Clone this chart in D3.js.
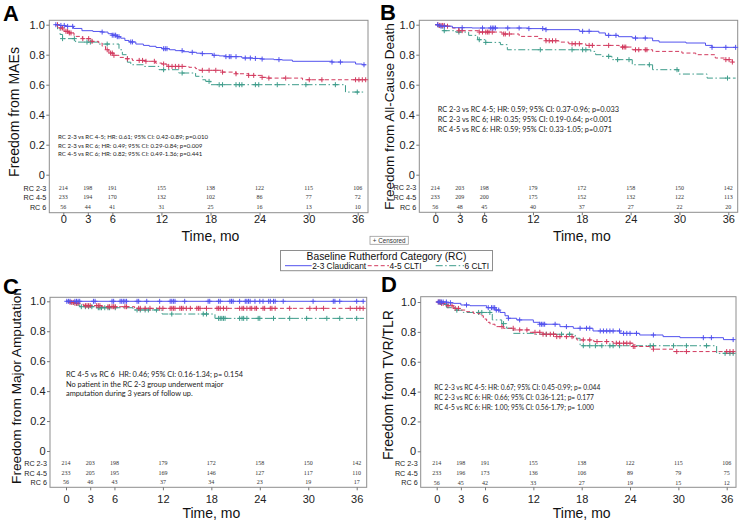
<!DOCTYPE html>
<html><head><meta charset="utf-8">
<script src="https://cdn.jsdelivr.net/npm/d3@7"></script>
<style>body{margin:0;background:#fff} svg{display:block}</style>
</head><body><svg id="c" width="740" height="522"></svg>
<script>
// ---------- DATA ----------
const months = [0, 3, 6, 12, 18, 24, 30, 36];
const yTicks = [0, 0.2, 0.4, 0.6, 0.8, 1.0];
const groups = ["RC 2-3", "RC 4-5", "RC 6"];
const legendTitle = "Baseline Rutherford Category (RC)";
const legendLabels = ["2-3 Claudicant", "4-5 CLTI", "6 CLTI"];
const censoredLabel = "+ Censored";
const xTitle = "Time, mo";
const followEnd = 36.9;

// Panel A: Freedom from MAEs
const A_title = "Freedom from MAEs";
const A_s23 = [[0,1],[0.5,0.995],[1.2,0.989],[2.2,0.975],[3.2,0.96],[4.5,0.955],[5.6,0.951],[6.3,0.94],[6.8,0.93],[7.4,0.92],[7.8,0.91],[8.3,0.895],[8.8,0.885],[9.6,0.871],[10.5,0.862],[11.2,0.856],[12.0,0.848],[12.7,0.84],[13.6,0.833],[14.3,0.827],[15.2,0.82],[15.9,0.816],[16.8,0.81],[17.5,0.807],[18.7,0.796],[19.5,0.792],[20.3,0.787],[22.2,0.778],[23.5,0.775],[24.6,0.771],[26.0,0.767],[27.0,0.764],[28.2,0.756],[32.9,0.751],[35.7,0.738],[36.5,0.733]];
const A_s45 = [[0,1],[0.47,0.978],[1.07,0.956],[1.66,0.945],[2.26,0.922],[3.25,0.907],[4.4,0.889],[5.2,0.878],[5.6,0.856],[6.0,0.833],[6.4,0.811],[7.0,0.796],[7.6,0.782],[8.4,0.773],[9.2,0.762],[10.8,0.756],[11.95,0.744],[12.7,0.738],[13.3,0.722],[15.9,0.716],[16.7,0.707],[17.1,0.696],[19.9,0.684],[21.5,0.673],[23.0,0.662],[24.6,0.649],[25.4,0.644],[29.4,0.633]];
const A_s6 = [[0,1],[0.3,0.97],[0.6,0.935],[0.9,0.907],[2.45,0.884],[5.2,0.871],[7.6,0.833],[8.0,0.80],[8.6,0.75],[9.0,0.733],[10.5,0.722],[12.35,0.70],[14.7,0.678],[16.7,0.656],[17.5,0.633],[17.9,0.622],[18.5,0.60],[34.5,0.551]];
const A_c23 = [0.1,0.7,1.1,1.5,2.1,5.6,6.8,7.0,7.2,7.4,7.6,9.0,9.2,12.9,13.1,13.3,15.1,16.3,17.5,18.9,20.3,20.7,20.9,21.5,22.6,23.2,23.8,24.6,26.6,32.9,33.9,36.7];
const A_c45 = [0.3,0.7,0.9,1.3,1.5,1.7,1.9,3.3,4.0,4.4,6.2,6.6,6.8,7.0,8.6,10.0,10.4,10.8,11.8,12.9,13.5,13.9,14.3,14.7,15.1,17.5,18.3,19.1,19.9,21.5,23.0,23.6,24.6,25.4,27.4,30.2,31.7,35.7,36.1,36.5,36.9];
const A_c6 = [0.9,2.3,3.8,4.2,6.2,12.9,15.1,18.3,19.5,19.9,21.5,21.9,22.2,23.8,24.2,26.4,29.8,33.3,35.9];
const A_r23 = [214,198,191,155,138,122,115,106];
const A_r45 = [233,194,170,132,102,86,77,72];
const A_r6 = [56,44,41,31,25,16,13,10];
const A_notes = ["RC 2-3 vs RC 4-5; HR: 0.61; 95% CI: 0.42-0.89; p=0.010","RC 2-3 vs RC 6; HR: 0.49; 95% CI: 0.29-0.84; p=0.009","RC 4-5 vs RC 6; HR: 0.82; 95% CI: 0.49-1.36; p=0.441"];

// Panel B: Freedom from All-Cause Death
const B_title = "Freedom from All-Cause Death";
const B_s23 = [[0,1],[0.45,0.99],[2.1,0.98],[4.5,0.978],[11.5,0.974],[13.6,0.967],[17.7,0.956],[20.1,0.945],[20.9,0.929],[22.5,0.92],[24.2,0.911],[26.7,0.893],[27.5,0.884],[30.8,0.878],[33.2,0.862],[34.0,0.849]];
const B_s45 = [[0,1],[0.5,0.995],[1.27,0.99],[2.1,0.978],[2.9,0.96],[5.4,0.951],[8.2,0.938],[10.3,0.922],[12.7,0.907],[13.6,0.893],[15.2,0.884],[16.4,0.873],[18.5,0.862],[22.6,0.851],[24.2,0.833],[26.7,0.822],[30.3,0.811],[32.0,0.80],[34.4,0.778],[35.7,0.767],[36.5,0.751]];
const B_s6 = [[0,1],[0.45,0.98],[0.86,0.96],[2.5,0.951],[4.1,0.929],[5.2,0.90],[6.2,0.882],[8.0,0.867],[8.85,0.833],[19.1,0.822],[19.7,0.80],[20.5,0.789],[21.7,0.767],[24.2,0.733],[26.7,0.70],[29.9,0.671],[33.4,0.644]];
const B_c23 = [0.3,0.7,1.1,3.3,5.8,6.8,7.0,7.2,7.4,8.9,10.3,11.5,13.2,13.6,18.1,18.9,21.3,22.2,24.6,25.8,34.0,35.7,36.9];
const B_c45 = [0.3,0.5,0.7,0.9,1.1,1.5,2.9,3.3,5.4,5.8,6.2,6.4,6.6,7.0,8.4,8.6,9.1,13.6,14.0,14.4,14.8,16.8,17.2,17.7,18.9,19.3,21.3,23.0,23.2,23.4,24.6,25.0,25.8,26.0,35.7,36.1,36.5];
const B_c6 = [1.1,2.9,5.4,6.2,12.9,16.8,18.1,18.5,21.3,22.4,23.8,26.3,29.7,35.9];
const B_r23 = [214,203,198,179,172,158,150,142];
const B_r45 = [233,209,200,175,152,132,122,113];
const B_r6 = [56,48,45,40,37,27,22,20];
const B_notes = ["RC 2-3 vs RC 4-5; HR: 0.59; 95% CI: 0.37-0.96; p=0.033","RC 2-3 vs RC 6; HR: 0.35; 95% CI: 0.19-0.64; p<0.001","RC 4-5 vs RC 6: HR: 0.59; 95% CI: 0.33-1.05; p=0.071"];

// Panel C: Freedom from Major Amputation
const C_title = "Freedom from Major Amputation";
const C_s23 = [[0,1]];
const C_s45 = [[0,1],[0.3,0.993],[1.1,0.987],[1.7,0.98],[2.2,0.971],[4.5,0.964],[8.5,0.953]];
const C_s6 = [[0,1],[0.5,0.987],[0.9,0.975],[1.7,0.964],[3.5,0.957],[8.3,0.942],[11.9,0.915],[18.45,0.886]];
const C_c23 = [0.1,0.3,0.5,1.1,1.3,1.5,1.7,3.4,3.6,5.7,5.9,6.7,6.9,7.1,7.3,7.5,8.8,9.0,10.0,11.6,12.9,13.1,13.3,13.5,14.7,17.6,17.8,18.9,19.1,20.3,20.5,20.7,21.5,22.2,22.4,22.6,22.8,23.4,24.0,24.4,25.1,25.3,25.7,25.9,26.9,30.6,33.1,33.3,33.9,36.0,36.8];
const C_c45 = [0.5,0.7,0.9,1.1,1.3,1.5,2.4,2.6,2.8,3.0,3.8,4.0,4.2,5.2,5.4,5.7,5.9,6.1,7.3,7.5,9.0,9.2,9.8,10.4,11.6,12.0,12.9,13.1,13.3,13.5,14.1,14.3,14.5,14.9,15.4,16.2,16.4,16.6,17.4,18.7,18.9,19.1,19.5,19.9,21.5,21.8,22.0,22.4,22.8,23.0,23.4,23.6,24.4,24.6,25.3,25.5,25.9,27.7,30.2,31.0,31.9,35.2,36.0,36.4,36.8];
const C_c6 = [1.9,2.4,2.8,3.2,4.0,4.2,4.4,4.8,5.2,5.4,6.1,8.8,9.2,9.8,10.2,11.2,13.1,17.0,17.4,18.9,19.1,19.3,19.5,19.7,21.5,21.8,22.0,22.4,23.8,24.0,25.7,27.7,29.8,32.3,33.9,36.0];
const C_r23 = [214,203,198,179,172,158,150,142];
const C_r45 = [233,205,195,169,146,127,117,110];
const C_r6 = [56,46,43,37,34,23,19,17];
const C_notes = ["RC 4-5 vs RC 6  HR: 0.46; 95% CI: 0.16-1.34; p= 0.154","No patient in the RC 2-3 group underwent major","amputation during 3 years of follow up."];

// Panel D: Freedom from TVR/TLR
const D_title = "Freedom from TVR/TLR";
const D_s23 = [[0,1],[1.24,0.995],[2.06,0.991],[3.0,0.98],[4.13,0.975],[6.2,0.962],[7.24,0.946],[7.86,0.93],[8.48,0.908],[8.9,0.891],[9.93,0.88],[12.0,0.864],[12.8,0.851],[15.3,0.835],[16.96,0.824],[19.4,0.806],[22.75,0.79],[25.2,0.779],[28.1,0.768],[30.2,0.761],[35.6,0.748]];
const D_s45 = [[0,1],[0.41,0.991],[1.03,0.975],[2.06,0.957],[2.89,0.946],[3.72,0.935],[4.55,0.924],[5.38,0.908],[5.79,0.886],[6.2,0.864],[6.62,0.851],[7.24,0.835],[8.27,0.824],[9.51,0.813],[11.58,0.797],[13.2,0.784],[14.9,0.768],[16.96,0.757],[17.4,0.746],[19.5,0.735],[21.9,0.724],[24.4,0.702],[26.9,0.684],[29.4,0.668]];
const D_s6 = [[0,1],[0.41,0.984],[1.24,0.962],[2.5,0.945],[3.3,0.93],[6.9,0.88],[8.07,0.855],[8.69,0.824],[9.5,0.79],[12.0,0.784],[17.2,0.757],[17.8,0.707],[34.75,0.656]];
const D_c23 = [0.2,0.4,0.6,0.8,1.2,1.7,3.7,6.4,6.8,7.0,7.2,7.4,7.7,8.9,10.3,12.8,13.0,13.2,13.4,14.7,16.1,17.8,18.6,19.0,20.3,20.7,21.1,21.5,21.9,22.7,23.2,23.6,24.0,24.8,26.9,33.1,34.1,36.8];
const D_c45 = [0.2,0.4,0.6,0.8,1.4,1.9,2.3,2.7,8.1,9.5,10.3,11.2,12.2,12.8,13.2,13.6,14.1,14.5,14.9,15.3,16.1,16.8,18.2,19.0,19.9,21.1,22.3,22.7,23.2,23.6,24.0,24.4,24.6,26.9,29.8,31.0,36.0,36.4,36.8];
const D_c6 = [0.4,1.2,2.5,5.2,5.6,6.6,8.3,13.6,14.5,15.5,16.5,18.2,19.0,19.7,20.5,21.5,21.9,22.7,26.5,26.9,29.4,31.0,33.5,35.8,36.4,36.8];
const D_r23 = [214,198,191,155,138,122,115,106];
const D_r45 = [233,196,173,136,106,89,79,75];
const D_r6 = [56,45,42,33,27,19,15,12];
const D_notes = ["RC 2-3 vs RC 4-5: HR: 0.67; 95% CI: 0.45-0.99; p= 0.044","RC 2-3 vs RC 6: HR: 0.66; 95% CI: 0.36-1.21; p= 0.177","RC 4-5 vs RC 6: HR: 1.00; 95% CI: 0.56-1.79; p= 1.000"];

// ---------- STYLE ----------
const colors = ["#5252ee", "#d23a5e", "#3d9c8a"];
const dashes = [null, "4,2.5", "7,2.5,1.5,2.5"];
const SANS = "Liberation Sans, Arial, sans-serif";

// ---------- LAYOUT ----------
const panels = [
  {letter:"A", title:A_title, steps:[A_s23,A_s45,A_s6], cens:[A_c23,A_c45,A_c6], risk:[A_r23,A_r45,A_r6], notes:A_notes,
   L:{boxL:49.3,boxR:368,boxT:20.3,boxB:212.7,x0:63.3,x36:357.7,y1:24.7,y0:174.7,cx0:55,cx36:358.1,tickY:222.7,timeY:240.5,
      titleX:19,titleY:112,titleW:130,letX:3,letY:20.5,riskY:[188.3,197.3,207],noteX:58,noteY:[136.7,145.7,154.3],noteW:150.3}},
  {letter:"B", title:B_title, steps:[B_s23,B_s45,B_s6], cens:[B_c23,B_c45,B_c6], risk:[B_r23,B_r45,B_r6], notes:B_notes,
   L:{boxL:419.3,boxR:737.7,boxT:20.3,boxB:212.3,x0:435.3,x36:728.3,y1:24.7,y0:174.7,cx0:435.3,cx36:728.3,tickY:222.7,timeY:240.5,
      titleX:394,titleY:116.5,titleW:187,letX:380,letY:20,riskY:[187.7,197.3,207.3],noteX:437.7,noteY:[109.7,119.3,129.6],noteW:181.6}},
  {letter:"C", title:C_title, steps:[C_s23,C_s45,C_s6], cens:[C_c23,C_c45,C_c6], risk:[C_r23,C_r45,C_r6], notes:C_notes,
   L:{boxL:50,boxR:366.7,boxT:297.3,boxB:487.3,x0:66,x36:356.7,y1:301.3,y0:451,cx0:66,cx36:356.7,tickY:502.7,timeY:518,
      titleX:21,titleY:386,titleW:196,letX:3,letY:293.5,riskY:[463.3,473.3,482.3],noteX:66,noteY:[374.3,384,393.3],noteW:177.3}},
  {letter:"D", title:D_title, steps:[D_s23,D_s45,D_s6], cens:[D_c23,D_c45,D_c6], risk:[D_r23,D_r45,D_r6], notes:D_notes,
   L:{boxL:420.7,boxR:736,boxT:296.7,boxB:487.3,x0:436.7,x36:726.7,y1:302,y0:451.3,cx0:436.7,cx36:726.7,tickY:502.7,timeY:517.5,
      titleX:393,titleY:385,titleW:150,letX:381,letY:292,riskY:[463.3,473.3,482.7],noteX:434.3,noteY:[387.3,397.3,407.7],noteW:166.4}}
];

const svg = d3.select("#c");

function survAt(steps, t) {
  let s = 1;
  for (const [ts, v] of steps) { if (ts <= t) s = v; else break; }
  return s;
}

function drawPanel(p) {
  const L = p.L;
  const g = svg.append("g");
  const x = d3.scaleLinear().domain([0, 36]).range([L.x0, L.x36]);
  const xc = d3.scaleLinear().domain([0, 36]).range([L.cx0, L.cx36]);
  const y = d3.scaleLinear().domain([0, 1]).range([L.y0, L.y1]);

  // frame
  g.append("rect").attr("x", L.boxL).attr("y", L.boxT)
    .attr("width", L.boxR - L.boxL).attr("height", L.boxB - L.boxT)
    .attr("fill", "none").attr("stroke", "#8e8e8e").attr("stroke-width", 1);

  // y axis
  const ya = g.append("g").attr("transform", `translate(${L.boxL},0)`)
    .call(d3.axisLeft(y).tickValues(yTicks).tickSize(3).tickPadding(1.5)
      .tickFormat(d => d === 0 ? "0" : d3.format(".1f")(d)));
  ya.select(".domain").remove();
  ya.selectAll("line").attr("stroke", "#777");
  ya.selectAll("text").attr("font-family", SANS).attr("font-size", 11).attr("fill", "#222");

  // x axis
  const xa = g.append("g").attr("transform", `translate(0,${L.boxB})`)
    .call(d3.axisBottom(x).tickValues(months).tickSize(3));
  xa.select(".domain").remove();
  xa.selectAll("line").attr("stroke", "#777");
  xa.selectAll("text").attr("font-family", SANS).attr("font-size", 11).attr("fill", "#222")
    .attr("y", L.tickY - L.boxB).attr("dy", null);

  // x title
  g.append("text").attr("x", (L.x0 + L.x36) / 2).attr("y", L.timeY)
    .attr("text-anchor", "middle").attr("font-family", SANS).attr("font-size", 14)
    .attr("fill", "#111").text(xTitle);

  // y title
  const yt = g.append("text").attr("transform", `translate(${L.titleX},${L.titleY}) rotate(-90)`)
    .attr("text-anchor", "middle").attr("font-family", SANS).attr("font-size", 13)
    .attr("fill", "#111").text(p.title);
  yt.attr("font-size", 13 * L.titleW / yt.node().getComputedTextLength());

  // panel letter
  g.append("text").attr("x", L.letX).attr("y", L.letY).attr("font-family", SANS)
    .attr("font-weight", "bold").attr("font-size", 22).attr("fill", "#000").text(p.letter);

  // curves
  const line = d3.line().x(d => xc(d[0])).y(d => y(d[1])).curve(d3.curveStepAfter);
  [2, 1, 0].forEach(i => {
    const st = p.steps[i];
    const pts = st.concat([[followEnd, st[st.length - 1][1]]]);
    g.append("path").attr("d", line(pts)).attr("fill", "none")
      .attr("stroke", colors[i]).attr("stroke-width", 1)
      .attr("stroke-dasharray", dashes[i]);
    const cg = g.append("g").attr("stroke", colors[i]).attr("stroke-width", 1);
    p.cens[i].forEach(t => {
      const cx = xc(t), cy = y(survAt(st, t));
      cg.append("path").attr("d", `M${cx - 2.5},${cy}H${cx + 2.5}M${cx},${cy - 2.5}V${cy + 2.5}`);
    });
  });

  // risk table
  groups.forEach((gr, i) => {
    g.append("text").attr("x", L.boxL - 3).attr("y", L.riskY[i]).attr("dy", "0.35em")
      .attr("text-anchor", "end").attr("font-family", SANS).attr("font-size", 7.2)
      .attr("fill", "#222").text(gr);
    g.selectAll(null).data(p.risk[i]).enter().append("text")
      .attr("x", (d, k) => x(months[k])).attr("y", L.riskY[i]).attr("dy", "0.35em")
      .attr("text-anchor", "middle").attr("font-family", "Liberation Serif, Times New Roman, serif")
      .attr("font-size", 6).attr("fill", "#333").text(d => d);
  });

  // notes
  const nt = g.selectAll(null).data(p.notes).enter().append("text")
    .attr("x", L.noteX).attr("y", (d, k) => L.noteY[k]).attr("dy", "0.35em")
    .attr("font-family", "Lato, Open Sans, sans-serif").attr("font-size", 7)
    .attr("fill", "#222").style("white-space", "pre").text(d => d);
  const w0 = nt.nodes()[0].getComputedTextLength();
  nt.attr("font-size", 7 * L.noteW / w0);
}

panels.forEach(drawPanel);

// censored box
const cbx = 370, cby = 236.3;
svg.append("rect").attr("x", cbx).attr("y", cby).attr("width", 38.3).attr("height", 8)
  .attr("fill", "#fff").attr("stroke", "#999").attr("stroke-width", 0.8);
svg.append("text").attr("x", cbx + 19.2).attr("y", cby + 6.2).attr("text-anchor", "middle")
  .attr("font-family", SANS).attr("font-size", 6.3).attr("fill", "#333").text(censoredLabel);

// legend
const lg = svg.append("g");
lg.append("rect").attr("x", 280.5).attr("y", 250.5).attr("width", 212).attr("height", 20.2)
  .attr("fill", "#fff").attr("stroke", "#8e8e8e").attr("stroke-width", 1);
const lt = lg.append("text").attr("x", 386.5).attr("y", 259.5).attr("text-anchor", "middle")
  .attr("font-family", SANS).attr("font-size", 10.5).attr("fill", "#111").text(legendTitle);
const ltw = lt.node().getComputedTextLength();
lt.attr("font-size", 10.5 * 160 / ltw);
const itemLineX = [[285, 311.7], [367.7, 389], [435.7, 464]];
legendLabels.forEach((lab, i) => {
  lg.append("line").attr("x1", itemLineX[i][0]).attr("x2", itemLineX[i][1])
    .attr("y1", 265.7).attr("y2", 265.7).attr("stroke", colors[i]).attr("stroke-width", 1)
    .attr("stroke-dasharray", dashes[i]);
  lg.append("text").attr("x", itemLineX[i][1] + 0.5).attr("y", 268.5)
    .attr("font-family", SANS).attr("font-size", 8.4).attr("fill", "#111").text(lab);
});
</script></body></html>
